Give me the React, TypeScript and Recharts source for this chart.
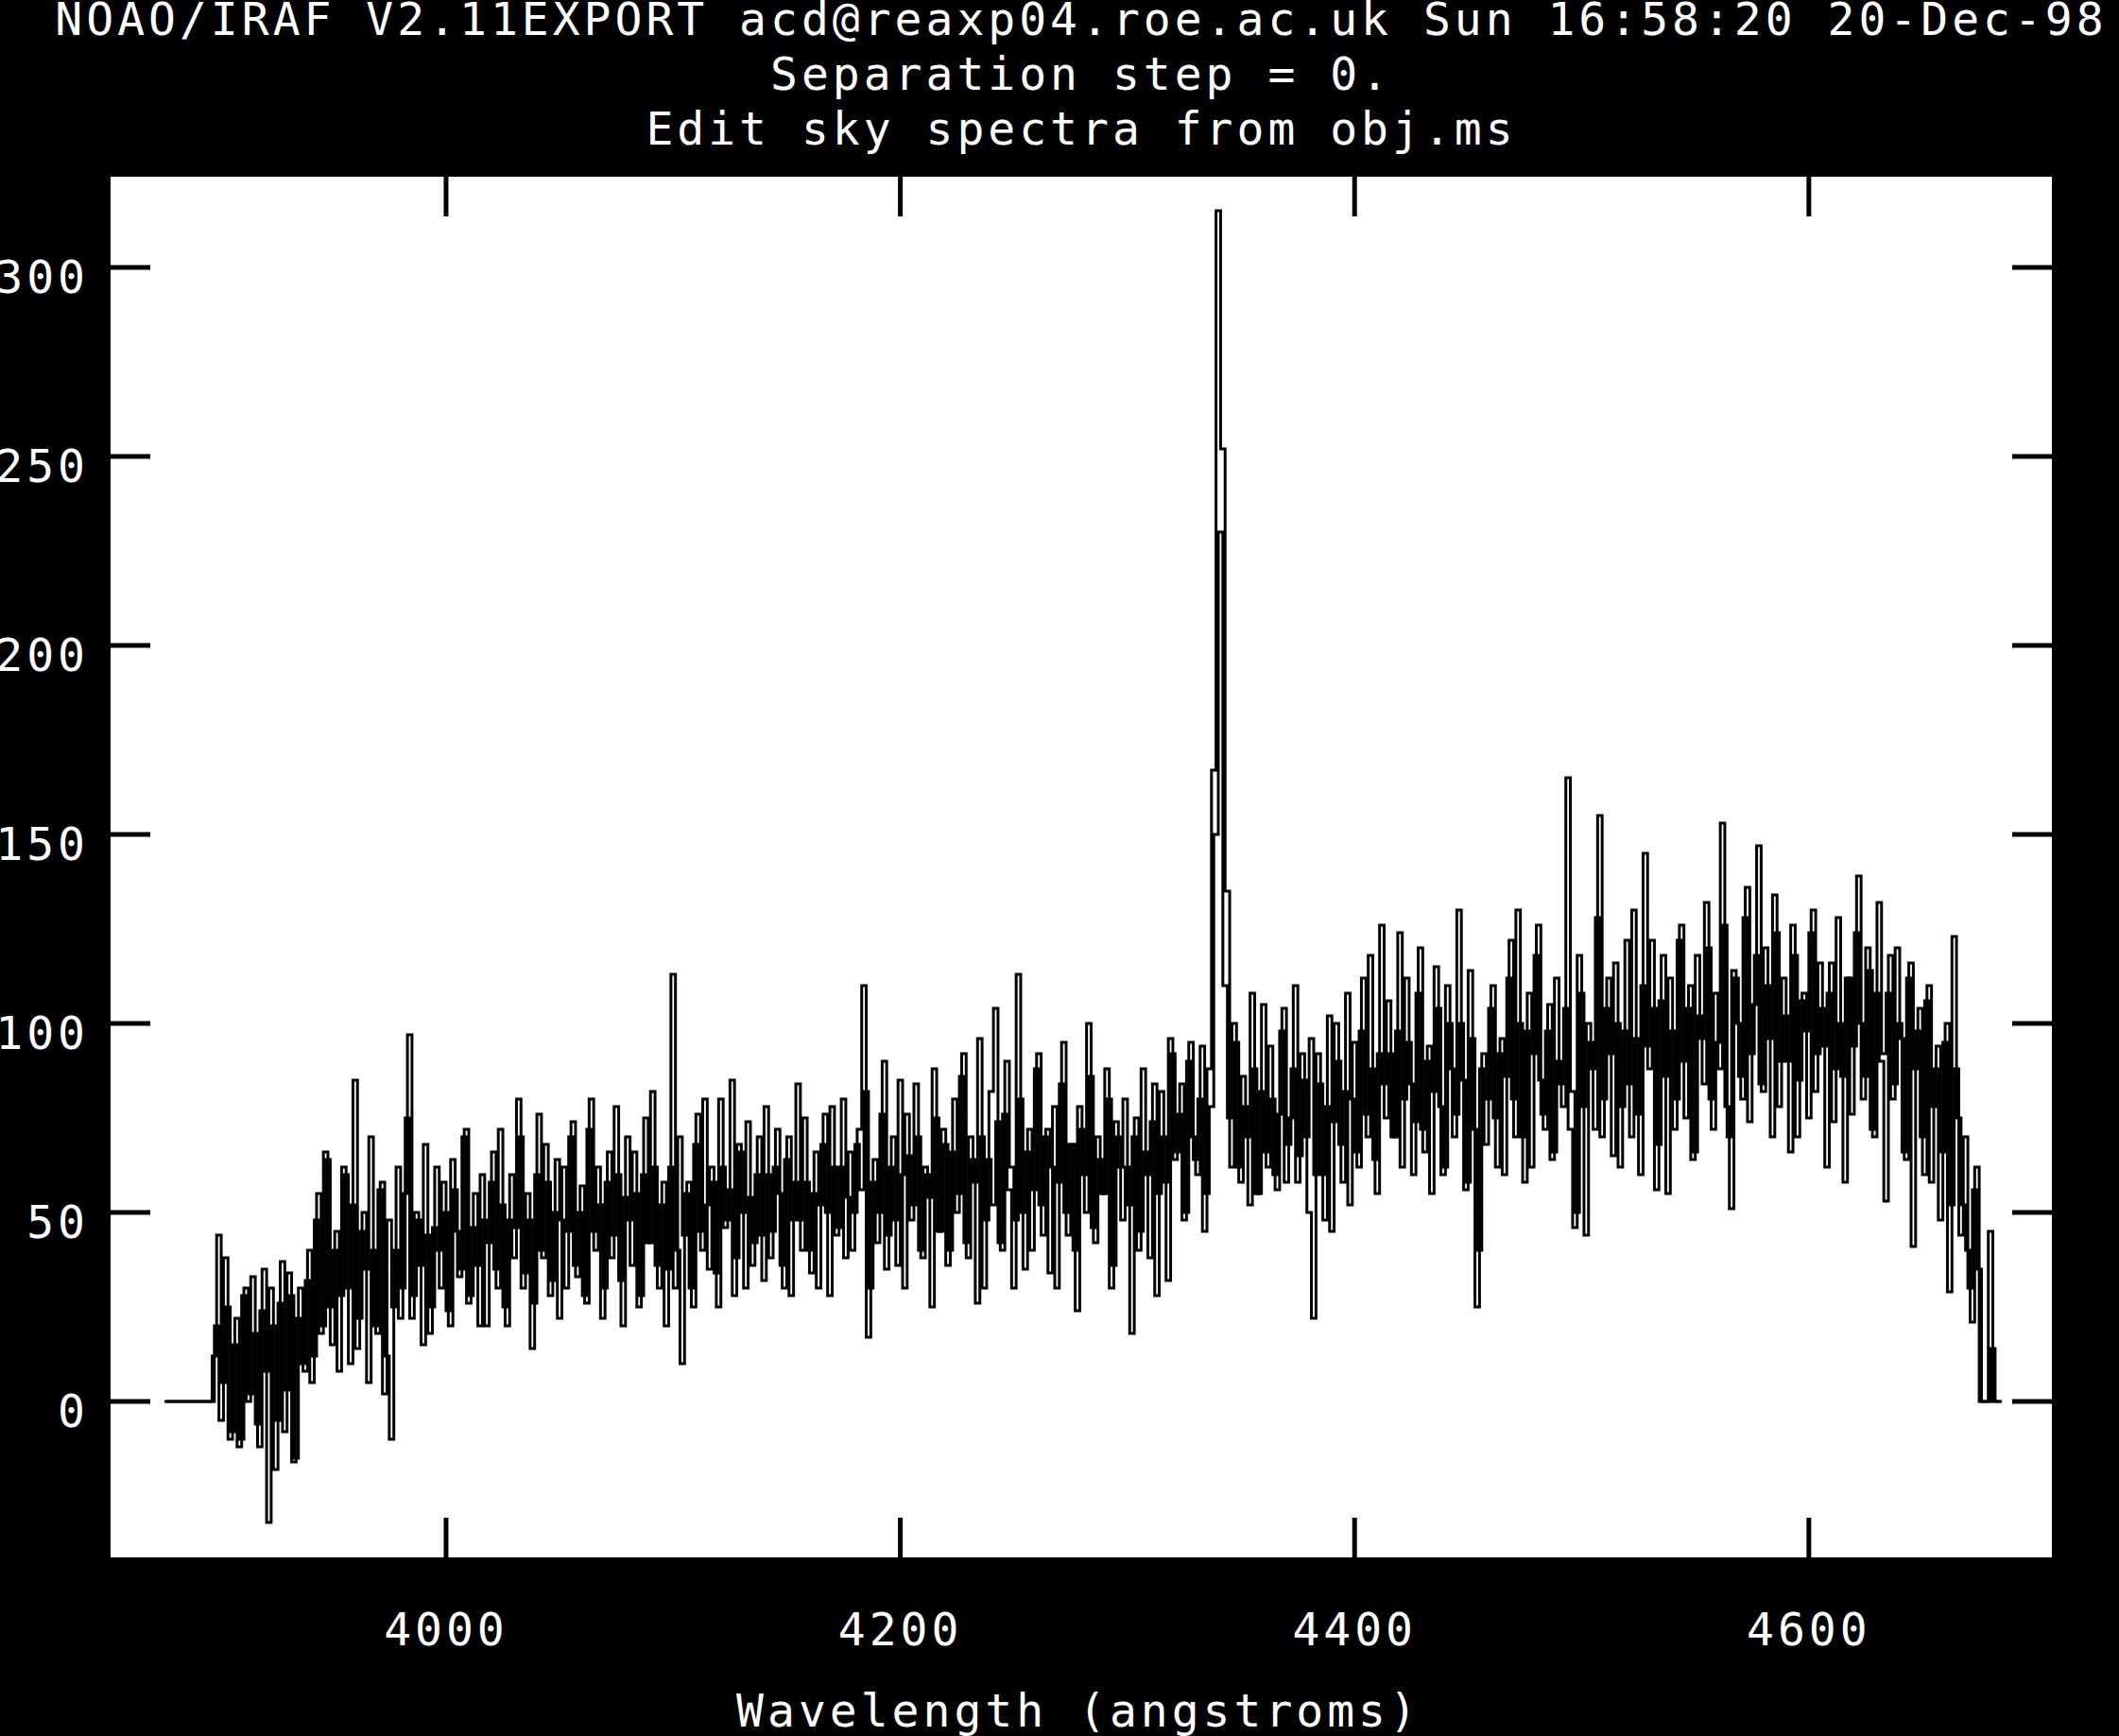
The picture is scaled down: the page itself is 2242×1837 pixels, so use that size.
import { LineChart, Line, XAxis, YAxis, CartesianGrid } from "recharts"

// linear wavelength solution of the two extracted sky apertures
const startWavelength1 = 3876
const startWavelength2 = 3877
const dispersion = 2

// zero padding before the apertures start
const leadingPad = [0, 0, 0, 0, 0, 0, 0, 0, 0, 0, 0]

// ---- sky aperture 1 ----
// 3898 - 4096 A
const sky1Blue = [
    12, 44, 5, 25, -8, 22, -10, 30, 2, 18, -12, 35, -32, 20, -5, 37, 3, 28, -15, 30,
    8, 40, 12, 55, 20, 64, 15, 45, 28, 60, 10, 85, 22, 50, 5, 40, 18, 58, 12, -10,
    40, 22, 55, 97, 28, 48, 15, 44, 25, 62, 30, 50, 20, 56, 33, 70, 26, 46, 36, 60,
    20, 58, 35, 72, 25, 48, 38, 80, 30, 55, 14, 60, 40, 68, 28, 50, 22, 62, 45, 74,
    33, 57, 26, 80, 40, 52, 30, 66, 44, 60, 20, 70, 36, 55, 28, 75, 42, 62, 30, 58,
]
// 4098 - 4296 A
const sky1Mid = [
    35, 113, 40, 10, 55, 30, 68, 45, 80, 35, 58, 25, 62, 48, 85, 38, 66, 30, 54, 42,
    70, 32, 60, 45, 72, 36, 64, 28, 58, 48, 75, 40, 55, 30, 68, 50, 78, 44, 62, 38,
    66, 50, 72, 110, 17, 58, 42, 76, 35, 62, 48, 85, 30, 65, 52, 70, 38, 60, 25, 75,
    45, 68, 40, 80, 55, 92, 38, 64, 26, 70, 48, 82, 104, 42, 76, 56, 30, 113, 50, 66,
    40, 88, 52, 70, 34, 78, 58, 95, 44, 68, 24, 72, 50, 86, 42, 64, 55, 80, 36, 70,
]
// 4298 - 4496 A (H gamma sky line near 4340)
const sky1Hgamma = [
    48, 62, 18, 75, 45, 66, 38, 84, 55, 70, 32, 92, 66, 84, 50, 95, 64, 80, 45, 88,
    167, 315, 252, 135, 62, 95, 58, 78, 52, 88, 55, 105, 62, 80, 56, 98, 58, 75, 110, 65,
    85, 50, 22, 92, 60, 78, 45, 100, 68, 82, 52, 95, 62, 112, 70, 88, 55, 126, 75, 92,
    70, 124, 80, 95, 60, 108, 72, 90, 55, 115, 78, 62, 100, 70, 130, 85, 58, 96, 25, 88,
    68, 104, 75, 92, 60, 112, 80, 130, 70, 98, 62, 118, 85, 72, 105, 66, 90, 78, 165, 82,
]
// 4498 - 4684 A
const sky1Red = [
    50, 108, 44, 95, 72, 155, 80, 112, 65, 100, 78, 122, 70, 96, 60, 145, 88, 104, 68, 118,
    55, 98, 80, 126, 75, 110, 66, 102, 84, 120, 72, 95, 153, 78, 51, 112, 86, 128, 74, 105,
    147, 82, 110, 70, 124, 90, 102, 66, 118, 85, 108, 75, 130, 92, 104, 62, 116, 88, 100, 58,
    112, 94, 139, 80, 120, 72, 108, 90, 53, 118, 84, 100, 66, 112, 41, 98, 70, 106, 58, 88,
    48, 95, 29, 123, 75, 52, 40, 21, 62, 0, 0, 45, 0, 0,
]

// ---- sky aperture 2 ----
// 3899 - 4097 A
const sky2Blue = [
    20, -5, 38, -10, 15, -12, 28, 0, 33, -6, 24, 8, 30, -18, 26, -8, 34, -16, 22, 10,
    32, 5, 48, 18, 66, 25, 40, 8, 62, 30, 52, 14, 45, 35, 70, 20, 56, 2, 48, 25,
    62, 30, 75, 22, 50, 36, 68, 18, 46, 40, 58, 24, 64, 45, 35, 72, 28, 55, 20, 48,
    42, 66, 30, 52, 20, 60, 46, 70, 34, 48, 26, 76, 38, 58, 32, 64, 48, 30, 70, 36,
    50, 28, 72, 45, 62, 22, 58, 38, 78, 32, 54, 48, 66, 25, 60, 42, 82, 36, 52, 20,
]
// 4099 - 4297 A
const sky2Mid = [
    62, 30, 70, 44, 58, 25, 76, 40, 52, 62, 34, 80, 46, 56, 28, 68, 50, 74, 36, 60,
    44, 78, 38, 62, 55, 30, 70, 48, 84, 40, 58, 34, 66, 52, 76, 28, 62, 46, 80, 54,
    40, 68, 56, 82, 30, 64, 50, 90, 44, 70, 36, 60, 76, 48, 84, 40, 62, 54, 88, 45,
    72, 36, 66, 50, 86, 42, 70, 58, 96, 30, 64, 52, 74, 40, 90, 62, 48, 80, 35, 72,
    56, 92, 44, 72, 62, 30, 84, 50, 68, 40, 78, 60, 100, 46, 70, 55, 88, 30, 74, 62,
]
// 4299 - 4497 A
const sky2Hgamma = [
    80, 52, 70, 40, 88, 60, 74, 28, 82, 58, 96, 64, 76, 48, 90, 70, 60, 94, 55, 78,
    150, 230, 110, 75, 100, 62, 86, 70, 108, 55, 82, 66, 94, 60, 76, 104, 68, 88, 58, 92,
    70, 96, 60, 84, 48, 102, 74, 90, 58, 108, 80, 66, 98, 76, 118, 64, 92, 84, 106, 70,
    98, 62, 112, 84, 74, 120, 66, 94, 82, 104, 60, 110, 88, 76, 100, 56, 114, 72, 40, 92,
    80, 110, 62, 96, 86, 122, 70, 100, 58, 108, 92, 126, 76, 98, 64, 112, 84, 104, 72, 46,
]
// 4499 - 4685 A
const sky2Red = [
    118, 78, 100, 88, 128, 70, 104, 92, 116, 62, 98, 84, 130, 76, 110, 94, 122, 56, 106, 86,
    112, 72, 122, 90, 104, 64, 118, 96, 132, 80, 108, 88, 126, 70, 114, 100, 80, 136, 92, 118,
    84, 120, 96, 134, 78, 112, 90, 126, 70, 106, 98, 124, 82, 116, 94, 108, 74, 128, 86, 112,
    76, 124, 100, 86, 114, 70, 132, 92, 108, 80, 120, 96, 64, 116, 88, 104, 60, 110, 78, 94,
    66, 100, 52, 88, 44, 70, 30, 56, 35, 0, 0, 14, 0, 0,
]

const xTicks = [4000, 4200, 4400, 4600]
const yTicks = [0, 50, 100, 150, 200, 250, 300]
const titleLines = [
    "NOAO/IRAF V2.11EXPORT acd@reaxp04.roe.ac.uk Sun 16:58:20 20-Dec-98",
    "Separation step = 0.",
    "Edit sky spectra from obj.ms",
]
const xLabel = "Wavelength (angstroms)"

const toSpectrum = (start: number, flux: number[]) =>
    flux.map((f, i) => ({ wavelength: start + i * dispersion, flux: f }))

const sky1 = toSpectrum(startWavelength1, [...leadingPad, ...sky1Blue, ...sky1Mid, ...sky1Hgamma, ...sky1Red])
const sky2 = toSpectrum(startWavelength2, [...leadingPad, ...sky2Blue, ...sky2Mid, ...sky2Hgamma, ...sky2Red])

const W = 2242
const H = 1837
const plotLeft = 117
const plotRight = 2171
const plotTop = 187
const plotBottom = 1648
const tickLen = 42
const font = "'DejaVu Sans Mono', monospace"

const XTick = (props: any) => {
    const { x, payload } = props
    return (
        <g>
            <line x1={x} x2={x} y1={plotBottom} y2={plotBottom - tickLen} stroke="#000" strokeWidth={5} />
            <line x1={x} x2={x} y1={plotTop} y2={plotTop + tickLen} stroke="#000" strokeWidth={5} />
            <text x={x} y={1741} textAnchor="middle" fill="#fff" fontFamily={font} fontSize={48} letterSpacing={4}>
                {payload.value}
            </text>
        </g>
    )
}

const YTick = (props: any) => {
    const { y, payload } = props
    return (
        <g>
            <line x1={plotLeft} x2={plotLeft + tickLen} y1={y} y2={y} stroke="#000" strokeWidth={5} />
            <line x1={plotRight - tickLen} x2={plotRight} y1={y} y2={y} stroke="#000" strokeWidth={5} />
            <text x={94} y={y + 27} textAnchor="end" fill="#fff" fontFamily={font} fontSize={48} letterSpacing={4}>
                {payload.value}
            </text>
        </g>
    )
}

const App = () => {
    return (
        <div style={{ position: "absolute", left: 0, top: 0, width: W, height: H, background: "#000", overflow: "hidden" }}>
            <LineChart width={W} height={H} margin={{ top: plotTop, right: W - plotRight, bottom: 0, left: 0 }}>
                <CartesianGrid horizontal={false} vertical={false} fill="#ffffff" fillOpacity={1} />
                <XAxis
                    dataKey="wavelength"
                    type="number"
                    domain={[3852.3, 4707]}
                    ticks={xTicks}
                    allowDataOverflow
                    height={H - plotBottom}
                    axisLine={false}
                    tickLine={false}
                    tick={<XTick />}
                />
                <YAxis
                    domain={[-41.25, 324]}
                    ticks={yTicks}
                    allowDataOverflow
                    width={plotLeft}
                    axisLine={false}
                    tickLine={false}
                    tick={<YTick />}
                />
                <Line data={sky1} type="step" dataKey="flux" stroke="#000" strokeWidth={3} dot={false} isAnimationActive={false} />
                <Line data={sky2} type="step" dataKey="flux" stroke="#000" strokeWidth={3} dot={false} isAnimationActive={false} />
            </LineChart>
            <svg width={W} height={H} style={{ position: "absolute", left: 0, top: 0, pointerEvents: "none" }}>
                {titleLines.map((t, i) => (
                    <text key={t} x={1144} y={37 + i * 58} textAnchor="middle" fill="#fff" fontFamily={font} fontSize={48} letterSpacing={4}>
                        {t}
                    </text>
                ))}
                <text x={1141} y={1827} textAnchor="middle" fill="#fff" fontFamily={font} fontSize={48} letterSpacing={4}>
                    {xLabel}
                </text>
            </svg>
        </div>
    )
}

export default App
